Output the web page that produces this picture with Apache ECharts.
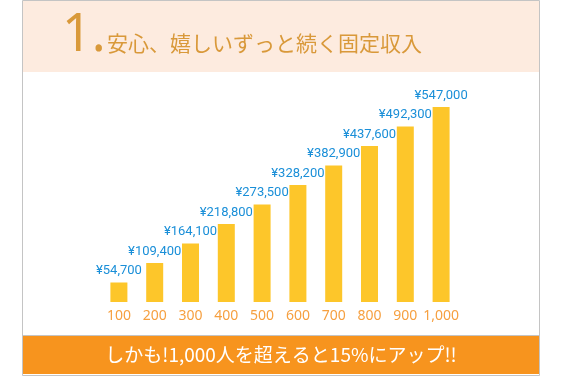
<!DOCTYPE html>
<html>
<head>
<meta charset="utf-8">
<script src="https://cdn.jsdelivr.net/npm/echarts@6/dist/echarts.min.js"></script>
<style>
  html, body { margin: 0; padding: 0; background: #fff; }
  #chart { width: 564px; height: 376px; }
</style>
</head>
<body>
<div id="chart"></div>
<script>
// member counts (x axis)
const categories = ['100', '200', '300', '400', '500', '600', '700', '800', '900', '1,000']
// fixed monthly income in yen
const incomeValues = [54700, 109400, 164100, 218800, 273500, 328200, 382900, 437600, 492300, 547000]

const titleNumber = '1.'
const titleText = '安心、嬉しいずっと続く固定収入'
const bannerText = 'しかも!1,000人を超えると15%にアップ!!'

const BAR_COLOR = '#fdc62a'
const LABEL_BLUE = '#1a8fd8'
const AXIS_ORANGE = '#f6a040'
const TITLE_GOLD = '#d9993a'
const BAND_ORANGE = '#f7941e'

const formatYen = (v) => '¥' + v.toLocaleString('en-US')

const chart = echarts.init(document.getElementById('chart'))

chart.setOption({
  backgroundColor: '#fff',
  animation: false,
  grid: { left: 101, right: 105, top: 88, bottom: 74 },
  xAxis: {
    type: 'category',
    data: categories,
    axisLine: { show: false },
    axisTick: { show: false },
    axisLabel: {
      interval: 0,
      color: AXIS_ORANGE,
      fontSize: 14,
      fontFamily: 'Noto Sans, sans-serif',
      margin: 7,
    },
  },
  yAxis: {
    type: 'value',
    min: 0,
    max: 600000,
    show: false,
  },
  series: [
    {
      type: 'bar',
      data: incomeValues,
      barWidth: 17,
      itemStyle: { color: BAR_COLOR },
      label: {
        show: true,
        position: 'top',
        distance: 5,
        color: LABEL_BLUE,
        fontSize: 13,
        fontFamily: '"Liberation Sans Narrow", "Roboto", sans-serif',
        formatter: (p) => formatYen(p.value),
      },
    },
  ],
  graphic: [
    // outer frame
    {
      type: 'rect',
      z: -10,
      shape: { x: 22.5, y: 0.5, width: 517, height: 375 },
      style: { fill: '#fff', stroke: '#c4c4c4', lineWidth: 1 },
    },
    // header band
    {
      type: 'rect',
      z: -9,
      shape: { x: 23, y: 1, width: 516, height: 71 },
      style: { fill: '#fdebdf' },
    },
    {
      type: 'text',
      left: 62,
      top: 10,
      style: {
        text: titleNumber,
        fill: TITLE_GOLD,
        font: '52px "Noto Sans", sans-serif',
      },
    },
    {
      type: 'text',
      left: 107,
      top: 33,
      style: {
        text: titleText,
        fill: TITLE_GOLD,
        font: '21px "Noto Sans CJK JP", sans-serif',
      },
    },
    // bottom banner
    {
      type: 'rect',
      z: -9,
      shape: { x: 23, y: 335, width: 516, height: 1 },
      style: { fill: '#c4c4c4' },
    },
    {
      type: 'rect',
      z: -9,
      shape: { x: 23, y: 336, width: 516, height: 38 },
      style: { fill: BAND_ORANGE },
    },
    {
      type: 'text',
      x: 281,
      y: 355,
      style: {
        text: bannerText,
        fill: '#fff',
        font: '19px "Noto Sans CJK JP", sans-serif',
        align: 'center',
        verticalAlign: 'middle',
      },
    },
  ],
})
</script>
</body>
</html>
